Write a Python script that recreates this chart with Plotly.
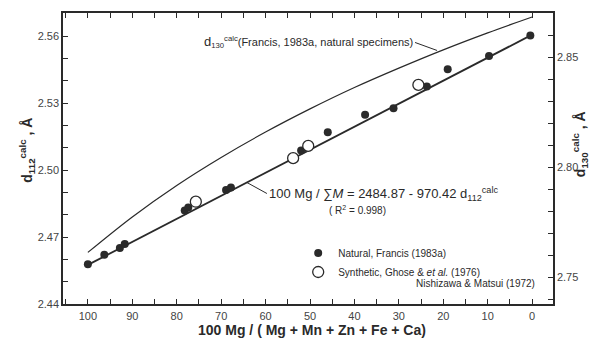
import plotly.graph_objects as go

# ---- data ----
nat_x = [100.0, 96.3, 92.8, 91.7, 78.2, 77.4, 68.9, 67.8, 52.0, 46.0, 37.6, 31.2, 23.7, 19.0, 9.7, 0.4]
nat_y = [2.4578, 2.4620, 2.4651, 2.4669, 2.4819, 2.4832, 2.4911, 2.4922, 2.5087, 2.5169, 2.5247, 2.5277, 2.5374, 2.5451, 2.5511, 2.5602]

syn_x = [75.7, 53.8, 50.4, 25.6]
syn_y = [2.4858, 2.5053, 2.5108, 2.5381]

fit_x = [100, 0]
fit_y = [2.4575, 2.5606]

fr_x = [100, 90, 80, 70, 60, 50, 40, 30, 20, 10, 0]
fr_y = [2.7614, 2.7775, 2.7918, 2.8045, 2.8160, 2.8265, 2.8362, 2.8450, 2.8533, 2.8610, 2.8682]

left_ticks = [2.44, 2.47, 2.50, 2.53, 2.56]
right_ticks = [2.75, 2.80, 2.85]
x_ticks = [100, 90, 80, 70, 60, 50, 40, 30, 20, 10, 0]
top_ticks = [105, 100, 95, 90, 85, 80, 75, 70, 65, 60, 55, 50, 45, 40, 35, 30, 25, 20, 15, 10, 5, 0]

INK = "#2a2a2a"
FONT = "Liberation Sans"
XR = [105.6, -4.7]

fig = go.Figure()
fig.add_trace(go.Scatter(x=fit_x, y=fit_y, mode="lines", line=dict(color=INK, width=1.8),
                         showlegend=False, hoverinfo="skip"))
fig.add_trace(go.Scatter(x=fr_x, y=fr_y, yaxis="y2", mode="lines", line=dict(color=INK, width=1.2, shape="spline"),
                         showlegend=False, hoverinfo="skip"))
fig.add_trace(go.Scatter(x=nat_x, y=nat_y, mode="markers", name="Natural, Francis (1983a)",
                         marker=dict(symbol="circle", size=8, color=INK, line=dict(width=0))))
fig.add_trace(go.Scatter(x=syn_x, y=syn_y, mode="markers", name="Synthetic, Ghose & <i>et al.</i> (1976)",
                         marker=dict(symbol="circle", size=11, color="white", line=dict(color=INK, width=1.3))))
# invisible trace so the top tick axis is drawn
fig.add_trace(go.Scatter(x=fit_x, y=fit_y, xaxis="x2", mode="lines", line=dict(width=0),
                         opacity=0, showlegend=False, hoverinfo="skip"))

axis_common = dict(showline=True, linecolor=INK, linewidth=1.5, ticks="inside", ticklen=5,
                   tickcolor=INK, tickwidth=1.2, showgrid=False, zeroline=False,
                   tickfont=dict(family=FONT, size=11, color="#444"))

fig.update_layout(
    width=603, height=338,
    margin=dict(l=63, r=50, t=13, b=34),
    paper_bgcolor="white", plot_bgcolor="white",
    font=dict(family=FONT, color=INK),
    xaxis=dict(range=XR, tickvals=x_ticks, ticktext=[str(v) for v in x_ticks], ticklabelstandoff=1,
               minor=dict(dtick=5, ticks="inside", ticklen=5, tickcolor=INK), **axis_common),
    xaxis2=dict(range=XR, overlaying="x", side="top", tickvals=top_ticks, showticklabels=False,
                showline=True, linecolor=INK, linewidth=1.5, ticks="inside", ticklen=5,
                tickcolor=INK, tickwidth=1.2, showgrid=False, zeroline=False),
    yaxis=dict(range=[2.44, 2.5703], tickvals=left_ticks, ticktext=[f"{v:.2f}" for v in left_ticks],
               minor=dict(dtick=0.01, tick0=2.44, ticks="inside", ticklen=5, tickcolor=INK), **axis_common),
    yaxis2=dict(range=[2.738, 2.870], overlaying="y", side="right", tickvals=right_ticks,
                ticktext=[f"{v:.2f}" for v in right_ticks],
                minor=dict(dtick=0.01, tick0=2.75, ticks="inside", ticklen=5, tickcolor=INK), **axis_common),
    legend=dict(x=0.48, y=0.225, xanchor="left", yanchor="top", bgcolor="rgba(0,0,0,0)",
                font=dict(family=FONT, size=10, color=INK), tracegroupgap=0, itemwidth=30),
    showlegend=True,
)

ann = []
# x-axis title
ann.append(dict(text="<b>100 Mg / ( Mg + Mn + Zn + Fe + Ca)</b>", xref="paper", yref="paper",
                x=0.508, y=(304 - 330) / 291, xanchor="center", yanchor="middle", showarrow=False,
                font=dict(family=FONT, size=14, color=INK)))
# left y title
ann.append(dict(text="<b>d<sub>112</sub><sup>calc</sup> , Å</b>", xref="paper", yref="paper",
                x=-0.098, y=0.53, textangle=-90, showarrow=False,
                font=dict(family=FONT, size=14, color=INK)))
# right y title
ann.append(dict(text="<b>d<sub>130</sub><sup>calc</sup> , Å</b>", xref="paper", yref="paper",
                x=1.08, y=0.55, textangle=-90, showarrow=False,
                font=dict(family=FONT, size=14, color=INK)))
# Francis curve label with leader
ann.append(dict(text="<span style='font-size:13px'>d</span><sub>130</sub><sup>calc</sup>(Francis, 1983a, natural specimens)",
                x=21.4, y=2.853, xref="x", yref="y2", xanchor="right", yanchor="middle",
                showarrow=True, arrowhead=0, arrowwidth=1, arrowcolor=INK, ax=-22, ay=-8,
                font=dict(family=FONT, size=11, color=INK)))
# regression equation
ann.append(dict(text="100 Mg / ∑<i>M</i> = 2484.87 - 970.42 d<sub>112</sub><sup>calc</sup>",
                x=64.2, y=2.4944, xref="x", yref="y", xanchor="left", yanchor="middle",
                showarrow=True, arrowhead=0, arrowwidth=1, arrowcolor=INK, ax=20, ay=11,
                font=dict(family=FONT, size=13, color=INK)))
ann.append(dict(text="( R<sup>2</sup> = 0.998)", xref="paper", yref="paper",
                x=0.60, y=(304 - 210) / 291, xanchor="center", yanchor="middle", showarrow=False,
                font=dict(family=FONT, size=10, color=INK)))
ann.append(dict(text="Nishizawa & Matsui (1972)", xref="paper", yref="paper",
                x=(537 - 63) / 490, y=(304 - 283) / 291, xanchor="right", yanchor="middle", showarrow=False,
                font=dict(family=FONT, size=10, color=INK)))
fig.update_layout(annotations=ann)

fig.write_html("out.html")
